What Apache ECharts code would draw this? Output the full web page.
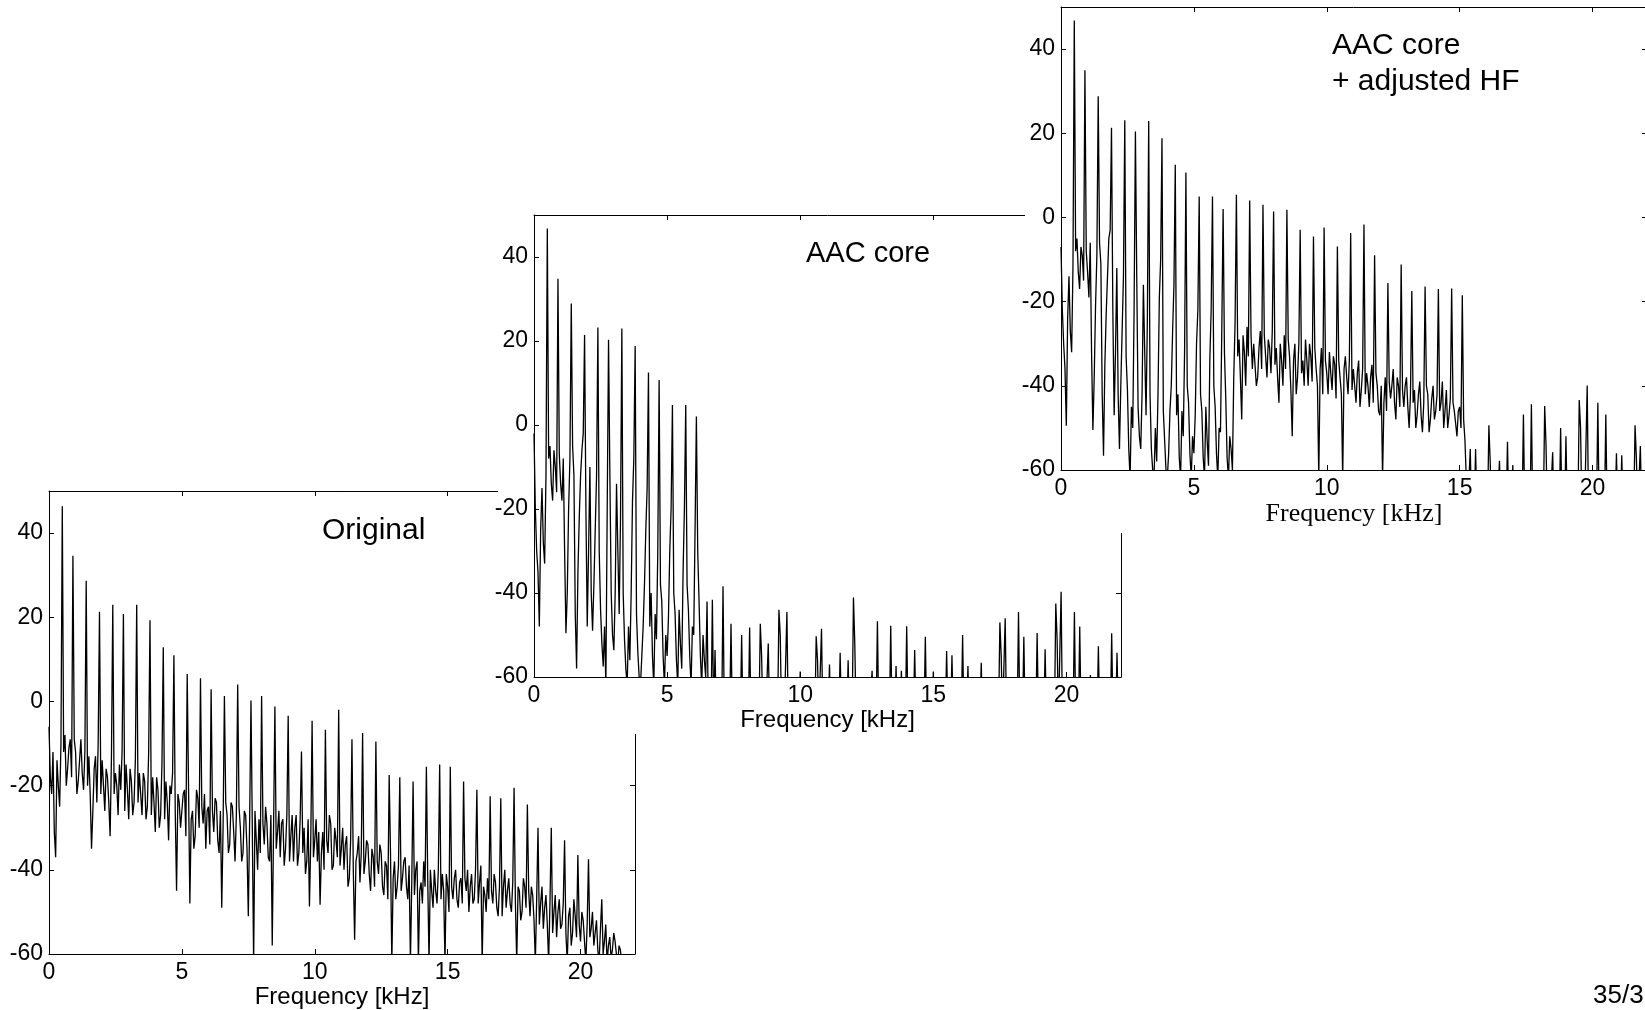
<!DOCTYPE html>
<html>
<head>
<meta charset="utf-8">
<script src="https://cdn.jsdelivr.net/npm/echarts@6/dist/echarts.min.js"></script>
<style>
html,body{margin:0;padding:0;background:#fff;}
#chart{width:1645px;height:1010px;}
</style>
</head>
<body>
<div id="chart"></div>
<script>
// ---- data: dB values ----
// "...Db" arrays: one value per 0.1 kHz bin (0.0 .. 22.0 kHz)
// "...MidDb" arrays: one value half-way between consecutive bins (0.05 .. 21.95 kHz)
const binWidthKHz = 0.1;
const xTickLabels = [0, 5, 10, 15, 20];
const yTickLabels = [-60, -40, -20, 0, 20, 40];
const axisTitle = 'Frequency [kHz]';
const panelLabels = ['Original', 'AAC core', 'AAC core', '+ adjusted HF'];
const pageLabel = '35/3';

const originalDb = [
  -6, -22, -31, -14, -25, 46.4, -8, -16, -9, 34.6,
  -12, -19, -9, -21, 28.7, -13, -35, -16, -24, 21.3,
  -14, -26, -18, -32, 23, -17, -27, -21, 20.8, -15,
  -28, -19, -24, 23, -17, -27, -19, -25, 19.3, -18,
  -31, -21, -27, 12.9, -19, -33, -22, 11, -45, -24,
  -30, -21, 6.5, -48, -26, -32, -23, 5.5, -29, -35,
  -25, 2.9, -31, -24, -36, -49, 1.3, -27, -34, -25,
  -38, 4, -30, -36, -27, -51, 0.2, -62, -33, -28,
  1.3, -34, -29, -38, -58, -1.2, -31, -37, -28, -35,
  -3.4, -32, -38, -27, -36, -11.9, -30, -38, -48.7, -4.6,
  -33, -38, -48.3, -31, -6.7, -36, -29, -39, -33, -2,
  -35, -40, -32, -42, -9, -56.6, -36, -43, -7.5, -38,
  -34, -45, -37, -9.5, -41, -36, -46, -39, -17.5, -62,
  -38, -44, -18, -42, -37, -47, -62, -19, -40, -62,
  -43, -38, -15.5, -62, -45, -40, -48, -15, -41, -62,
  -44, -15.5, -47, -40, -49, -42, -19, -45, -50, -41,
  -47, -21, -43, -62, -46, -42, -22.5, -48, -43, -51,
  -23, -44, -49, -42, -50, -20.5, -62, -45, -50, -44,
  -24.5, -51, -46, -62, -30, -48, -54, -46, -62, -30,
  -50, -56, -47, -53, -33, -62, -49, -55, -51, -36.5,
  -57, -52, -62, -37.5, -54, -58, -52, -62, -47, -57,
  -62, -56, -59, -57, -62, -59, -65, -70, -70, -70,
  -70
];
const originalMidDb = [
  -18, -12, -37, -20, -10, -12, -20, -11, -18, -9,
  -22, -14, -17, -12, -20, -22, -26, -13, -10, -22,
  -20, -16, -24, -13, -22, -20, -15, -12, -26, -21,
  -16, -27, -14, -24, -22, -17, -28, -12, -27, -24,
  -18, -30, -15, -28, -24, -20, -17, -26, -22, -30,
  -22, -32, -20, -28, -35, -21, -30, -25, -22, -26,
  -34, -26, -23, -33, -26, -30, -24, -36, -24, -31,
  -27, -25, -38, -26, -35, -28, -30, -26, -40, -36,
  -29, -25, -37, -27, -30, -35, -26, -29, -39, -27,
  -38, -27, -30, -39, -28, -36, -41, -28, -33, -37,
  -28, -31, -36, -40, -33, -27, -40, -30, -37, -39,
  -30, -34, -44, -33, -40, -38, -32, -36, -41, -33,
  -41, -35, -44, -38, -34, -44, -38, -47, -36, -42,
  -47, -39, -45, -38, -44, -39, -43, -46, -38, -45,
  -48, -44, -42, -40, -49, -45, -40, -47, -45, -41,
  -50, -44, -42, -47, -43, -48, -42, -40, -44, -48,
  -40, -48, -39, -44, -50, -47, -45, -41, -49, -44,
  -51, -40, -45, -48, -43, -48, -44, -52, -42, -49,
  -45, -44, -52, -47, -53, -44, -49, -53, -48, -55,
  -46, -50, -54, -48, -55, -51, -58, -47, -56, -53,
  -50, -57, -53, -56, -50, -55, -59, -54, -60, -53,
  -58, -61, -55, -60, -58, -62, -68, -70, -70, -70
];

const aacCoreDb = [
  -2, -30, -48, -15, -33, 46.8, -5, -18, -10, 34.8,
  -14, -8, -49.6, -20, 28.9, -12, -58, -22, -6, 21.4,
  -48, -10, -49, -25, 23.2, -44, -57.5, -62, 20.3, -40,
  -53.6, -14, -45, 23, -51, -62, -56, -18, 18.8, -54,
  -62, -48, -25, 12.5, -40, -62, -51, 10.7, -42, -62,
  -55, -30, 4.75, -45, -62, -52, -35, 4.75, -44, -62,
  -50, 2, -42, -62, -56, -42, -70, -41.6, -53.6, -70,
  -70, -38.4, -70, -70, -47.3, -70, -70, -70, -50, -70,
  -70, -48.2, -70, -70, -70, -47.3, -70, -70, -52, -70,
  -70, -70, -44, -70, -70, -44.5, -70, -70, -70, -70,
  -58.7, -70, -70, -70, -70, -70, -50.3, -70, -48.5, -70,
  -70, -57, -70, -70, -70, -54.2, -70, -70, -56, -70,
  -41.1, -70, -70, -70, -70, -70, -70, -58.5, -70, -46.7,
  -70, -70, -70, -70, -47.8, -70, -57.4, -70, -58.5, -70,
  -47.9, -70, -70, -53.6, -70, -70, -70, -50.4, -70, -70,
  -58.7, -70, -70, -70, -70, -53.8, -70, -54.8, -70, -70,
  -70, -50, -70, -57.4, -70, -70, -70, -70, -56.6, -70,
  -70, -70, -70, -70, -70, -47, -70, -46, -70, -70,
  -70, -70, -44.5, -70, -50.4, -70, -70, -70, -70, -49.5,
  -70, -70, -53.4, -70, -70, -70, -42.5, -70, -39.7, -70,
  -70, -70, -70, -44.5, -70, -48, -70, -70, -70, -59.5,
  -70, -70, -52.7, -70, -70, -70, -70, -49.6, -70, -54.2,
  -70
];
const aacCoreMidDb = [
  -20, -35, -25, -28, -12, -8, -14, -6, -16, -7,
  -18, -30, -40, -8, -5, -45, -35, -12, -2, -20,
  -30, -40, -38, -12, -30, -52, -48, -20, -12, -50,
  -40, -30, -22, -40, -58, -48, -40, -8, -45, -60,
  -55, -38, -15, -48, -55, -45, -30, -38, -55, -50,
  -46, -20, -40, -56, -44, -58, -20, -38, -55, -48,
  -25, -30, -55, -50, -60, -70, -70, -70, -70, -70,
  -70, -70, -70, -70, -70, -70, -70, -70, -70, -70,
  -70, -70, -70, -70, -70, -55, -70, -70, -70, -70,
  -70, -70, -50, -70, -70, -70, -70, -70, -70, -70,
  -70, -70, -70, -70, -70, -70, -56, -70, -70, -70,
  -70, -70, -70, -70, -70, -70, -70, -70, -70, -70,
  -52, -70, -70, -70, -70, -70, -70, -70, -70, -70,
  -70, -70, -70, -70, -70, -70, -70, -70, -70, -70,
  -70, -70, -70, -70, -70, -70, -70, -70, -70, -70,
  -70, -70, -70, -70, -70, -70, -70, -70, -70, -70,
  -70, -70, -70, -70, -70, -70, -70, -70, -70, -70,
  -70, -70, -70, -70, -70, -55, -70, -70, -70, -70,
  -70, -70, -70, -70, -70, -70, -70, -70, -70, -70,
  -70, -70, -70, -70, -70, -70, -51, -70, -70, -70,
  -70, -70, -70, -70, -70, -70, -70, -70, -70, -70,
  -70, -70, -70, -70, -70, -70, -70, -70, -70, -70
];

const aacHfDb = [
  -7, -30, -49.5, -14, -32, 46.8, -5, -17, -9, 35,
  -13, -6, -50.5, -21, 28.8, -11, -56.6, -23, -5, 21.3,
  -47, -12, -55, -27, 23.1, -41, -62, -50, 20.4, -45,
  -55, -16, -47, 22.9, -55, -62, -58, -19, 18.8, -53,
  -62, -46, -27, 12.5, -42, -62, -52, 10.7, -44, -62,
  -56, -30, 5, -46, -62, -53, -34, 5, -45, -62,
  -51, 2, -43, -62, -55, -38, 5.4, -29, -48, -32,
  -26, 4, -36, -30, -38, -27, 3, -33, -29, -37,
  1.4, -31, -44, -34, -28, 1.8, -33, -52, -30, -38,
  -2.9, -34, -29, -40, -33, -4.5, -36, -62, -31, -2.4,
  -37, -32, -41, -35, -6.9, -38, -62, -33, -42, -3.7,
  -36, -44, -34, -41, -1.7, -37, -45, -35, -9, -40,
  -47, -62, -38, -15.6, -43, -36, -48, -40, -11.2, -45,
  -38, -50, -17.5, -41, -47, -39, -51, -16.4, -42, -48,
  -40, -46, -17, -44, -50, -41, -47, -16.9, -46, -52,
  -45, -18.5, -53, -70, -55, -70, -55, -70, -70, -70,
  -70, -49.4, -70, -70, -70, -57.8, -70, -70, -53.3, -70,
  -58.8, -70, -70, -70, -46.8, -70, -70, -44.4, -70, -70,
  -70, -70, -44.8, -70, -70, -55.8, -70, -70, -50, -70,
  -52, -70, -70, -70, -70, -43.4, -70, -70, -39.9, -70,
  -70, -70, -44, -70, -70, -46.8, -70, -70, -70, -56,
  -70, -56.5, -70, -70, -70, -70, -49.4, -70, -54.3, -70,
  -70
];
const aacHfMidDb = [
  -22, -36, -24, -27, -12, -8, -13, -7, -15, -8,
  -19, -32, -38, -9, -6, -42, -35, -14, -3, -22,
  -32, -42, -40, -14, -33, -55, -45, -22, -14, -52,
  -42, -32, -24, -42, -60, -50, -42, -10, -46, -60,
  -56, -40, -16, -47, -57, -46, -32, -40, -56, -52,
  -47, -22, -42, -57, -45, -59, -22, -40, -56, -50,
  -27, -32, -57, -52, -60, -25, -33, -38, -28, -40,
  -33, -28, -30, -40, -31, -36, -28, -38, -31, -27,
  -35, -38, -30, -40, -36, -29, -41, -34, -42, -30,
  -37, -40, -34, -30, -39, -31, -40, -36, -42, -34,
  -42, -37, -33, -43, -34, -42, -36, -38, -34, -41,
  -40, -37, -45, -36, -42, -40, -38, -44, -37, -46,
  -40, -44, -46, -39, -40, -44, -38, -45, -41, -40,
  -45, -42, -44, -50, -42, -47, -44, -40, -51, -43,
  -48, -42, -46, -39, -46, -50, -43, -44, -49, -46,
  -50, -48, -62, -70, -70, -70, -70, -70, -70, -70,
  -70, -58, -70, -70, -70, -70, -70, -70, -70, -70,
  -70, -70, -70, -70, -70, -70, -70, -70, -70, -70,
  -70, -70, -54, -70, -70, -70, -70, -70, -70, -70,
  -70, -70, -70, -70, -70, -50, -70, -70, -70, -70,
  -70, -70, -70, -70, -70, -70, -70, -70, -70, -70,
  -70, -70, -70, -70, -70, -70, -57, -70, -70, -70
];

// ---- chart ----
const sans = "'Liberation Sans', Arial, Helvetica, sans-serif";
const serif = "'Liberation Serif', 'Times New Roman', serif";
function toPairs(bins, mids) {
  const out = [];
  bins.forEach((v, i) => {
    out.push([+(i * binWidthKHz).toFixed(3), v]);
    if (i < mids.length) out.push([+(i * binWidthKHz + binWidthKHz / 2).toFixed(3), mids[i]]);
  });
  return out;
}

const grids = [
  { left: 49, top: 491, width: 586, height: 463 },
  { left: 534, top: 215, width: 587, height: 462 },
  { left: 1061, top: 7, width: 586, height: 463 }
];
const zBase = [1, 6, 11];
const datasets = [[originalDb, originalMidDb], [aacCoreDb, aacCoreMidDb], [aacHfDb, aacHfMidDb]];

const xAxes = [], yAxes = [], series = [];
grids.forEach((g, i) => {
  const z = zBase[i];
  const common = {
    gridIndex: i, type: 'value', z: z,
    axisLine: { show: true, onZero: false, lineStyle: { color: '#000', width: 1 } },
    axisTick: { show: true, inside: true, length: 5, lineStyle: { color: '#000', width: 1 } },
    splitLine: { show: false }
  };
  xAxes.push(Object.assign({}, common, {
    position: 'bottom', min: 0, max: 22.05, interval: 5,
    axisLabel: {
      show: true, color: '#000', fontSize: 23, fontFamily: sans, margin: 7,
      formatter: v => (xTickLabels.indexOf(v) >= 0 ? String(v) : '')
    },
    name: axisTitle, nameLocation: 'middle', nameGap: i === 2 ? 31 : 31,
    nameTextStyle: i === 2
      ? { color: '#000', fontSize: 26, fontFamily: serif }
      : { color: '#000', fontSize: 24, fontFamily: sans }
  }));
  xAxes.push(Object.assign({}, common, {
    position: 'top', min: 0, max: 22.05, interval: 5,
    axisLabel: { show: false }
  }));
  yAxes.push(Object.assign({}, common, {
    position: 'left', min: -60, max: 50, interval: 20,
    axisLabel: {
      show: true, color: '#000', fontSize: 23, fontFamily: sans, margin: 6,
      formatter: v => (yTickLabels.indexOf(v) >= 0 ? String(v) : '')
    }
  }));
  yAxes.push(Object.assign({}, common, {
    position: 'right', min: -60, max: 50, interval: 20,
    axisLabel: { show: false }
  }));
  series.push({
    type: 'line', xAxisIndex: i * 2, yAxisIndex: i * 2, z: z + 1,
    data: toPairs(datasets[i][0], datasets[i][1]),
    showSymbol: false, symbol: 'none', clip: true,
    lineStyle: { color: '#000', width: 1.3 },
    silent: true, animation: false
  });
});

const option = {
  backgroundColor: '#fff',
  animation: false,
  grid: grids.map(g => Object.assign({ containLabel: false, outerBoundsMode: 'none', show: false }, g)),
  xAxis: xAxes,
  yAxis: yAxes,
  series: series,
  graphic: {
    elements: [
      { type: 'text', z: 3, style: { x: 322, y: 531, text: panelLabels[0], font: '30px ' + sans, fill: '#000', textVerticalAlign: 'middle' } },
      { type: 'rect', z: 5, shape: { x: 498, y: 0, width: 1147, height: 734 }, style: { fill: '#fff' } },
      { type: 'text', z: 8, style: { x: 806, y: 254, text: panelLabels[1], font: '29px ' + sans, fill: '#000', textVerticalAlign: 'middle' } },
      { type: 'rect', z: 10, shape: { x: 1025, y: 0, width: 620, height: 533 }, style: { fill: '#fff' } },
      { type: 'text', z: 13, style: { x: 1332, y: 46, text: panelLabels[2], font: '30px ' + sans, fill: '#000', textVerticalAlign: 'middle' } },
      { type: 'text', z: 13, style: { x: 1332, y: 82, text: panelLabels[3], font: '30px ' + sans, fill: '#000', textVerticalAlign: 'middle' } },
      { type: 'text', z: 13, style: { x: 1593, y: 996, text: pageLabel, font: '26px ' + sans, fill: '#000', textVerticalAlign: 'middle' } }
    ]
  }
};

const chart = echarts.init(document.getElementById('chart'), null, { renderer: 'canvas' });
chart.setOption(option);
</script>
</body>
</html>
